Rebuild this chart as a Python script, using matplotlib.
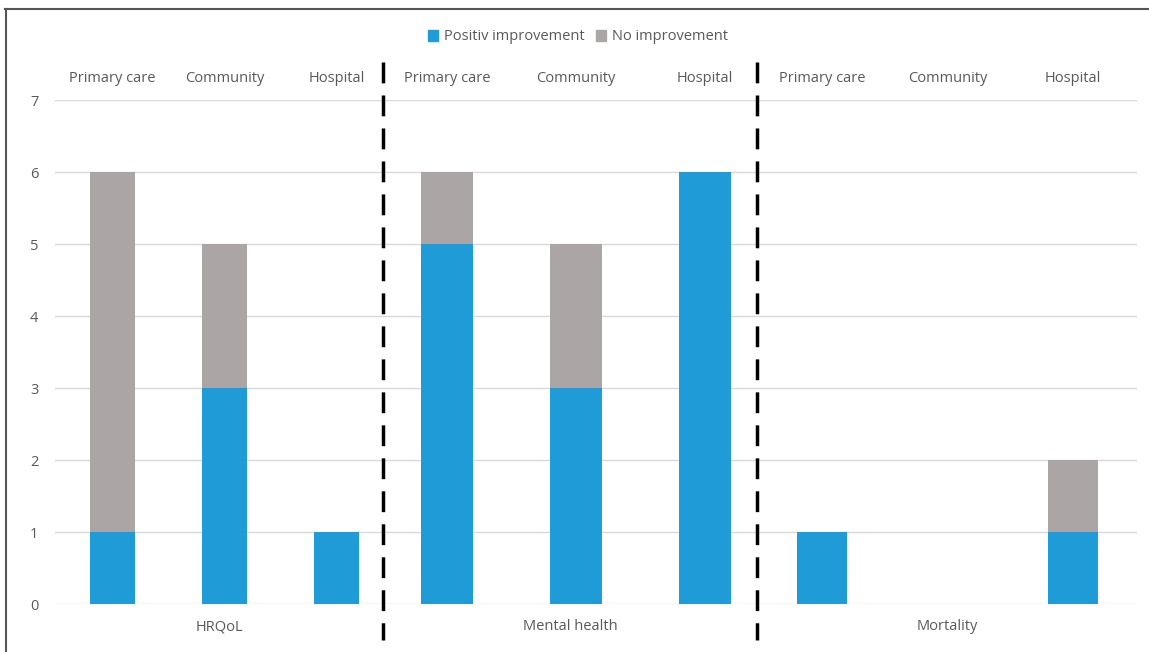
import numpy as np
import matplotlib.pyplot as plt
from matplotlib.lines import Line2D

plt.rcParams['font.family'] = ['Open Sans', 'DejaVu Sans']

groups = ['HRQoL', 'Mental health', 'Mortality']
settings = ['Primary care', 'Community', 'Hospital']
positive = [[1, 3, 1], [5, 3, 6], [1, 0, 1]]
no_improve = [[5, 2, 0], [1, 2, 0], [0, 0, 1]]

blue = '#1f9bd7'
grey = '#aba6a5'
txt = '#595959'

fig = plt.figure(figsize=(11.49, 6.52), dpi=100)

# panel edges in pixels (three charts side by side) and x-range of each
edges = [55, 383, 757, 1137]
xlims = [(-0.507, 2.409), (-0.496, 2.404), (-0.518, 2.51)]
W, H = 1149, 652
bottom = 1 - 604 / H
height = (604 - 100) / H

for g in range(3):
    l = edges[g] / W
    w = (edges[g + 1] - edges[g]) / W
    ax = fig.add_axes([l, bottom, w, height])
    x = np.arange(3)
    ax.bar(x, positive[g], width=0.4, color=blue, zorder=3)
    ax.bar(x, no_improve[g], width=0.4, bottom=positive[g], color=grey, zorder=3)
    ax.set_xlim(*xlims[g])
    ax.set_ylim(0, 7)
    ax.set_yticks(range(8))
    ax.grid(axis='y', color='#d9d9d9', lw=1, zorder=0)
    for s in ax.spines.values():
        s.set_visible(False)
    ax.tick_params(length=0, labelsize=10.5, colors=txt)
    if g > 0:
        ax.set_yticklabels([])
    else:
        ax.tick_params(axis='y', pad=12)
    ax.set_xticks(x)
    ax.set_xticklabels(settings)
    ax.xaxis.tick_top()
    ax.tick_params(axis='x', pad=10)
    ax.text(0.5, -0.045, groups[g], transform=ax.transAxes, ha='center', va='center',
            fontsize=10.5, color=txt)

# dashed separators
for px in edges[1:3]:
    fig.add_artist(Line2D([px / W, px / W], [1 - 62 / H, 1 - 640 / H], color='black',
                          lw=2.5, ls=(0, (6, 3.5))))

# outer frame (top and left only)
fig.add_artist(Line2D([5 / W, 1], [1 - 9 / H, 1 - 9 / H], color='#555555', lw=1.5))
fig.add_artist(Line2D([6 / W, 6 / W], [0, 1 - 9 / H], color='#555555', lw=1.5))

handles = [plt.Rectangle((0, 0), 1, 1, color=blue), plt.Rectangle((0, 0), 1, 1, color=grey)]
fig.legend(handles, ['Positiv improvement', 'No improvement'], loc='center',
           bbox_to_anchor=(578 / W, 1 - 37 / H), ncol=2, frameon=False, fontsize=10.5,
           handlelength=0.7, handleheight=0.7, handletextpad=0.4, columnspacing=0.8,
           labelcolor=txt)

fig.savefig('out.png', dpi=100)
